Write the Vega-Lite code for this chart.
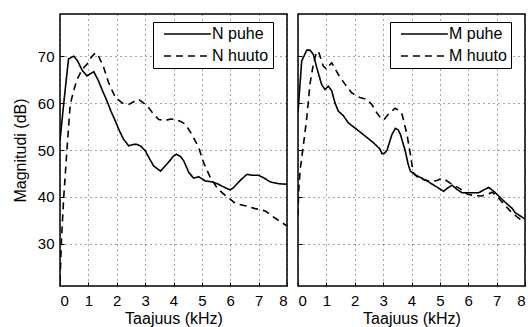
{
  "$schema": "https://vega.github.io/schema/vega-lite/v6.json",
  "padding": {"left": 11, "top": 13, "right": 5, "bottom": 0},
  "bounds": "flush",
  "spacing": 11,
  "config": {
    "font": "Liberation Sans",
    "view": {"stroke": "black", "strokeWidth": 1.5},
    "axis": {
      "domain": false,
      "ticks": true,
      "tickSize": -4,
      "tickColor": "black",
      "tickWidth": 1,
      "grid": true,
      "gridColor": "#000",
      "gridOpacity": 0.7,
      "gridDash": [1, 4],
      "gridWidth": 1,
      "labelFont": "Liberation Sans",
      "labelFontSize": 15,
      "labelColor": "black",
      "titleFont": "Liberation Sans",
      "titleFontSize": 16,
      "titleFontWeight": "normal",
      "titleColor": "black"
    },
    "legend": {
      "orient": "none",
      "legendY": 8,
      "fillColor": "white",
      "strokeColor": "black",
      "padding": 4,
      "symbolType": "M-0.15,0H6.55",
      "symbolSize": 196,
      "symbolStrokeWidth": 1.6,
      "symbolStrokeColor": "black",
      "labelFont": "Liberation Sans",
      "labelFontSize": 16,
      "labelColor": "black",
      "labelOffset": 39,
      "rowPadding": 6,
      "title": null
    }
  },
  "datasets": {
    "N": [
      {"series": "N puhe", "f": 0, "dB": 52},
      {"series": "N puhe", "f": 0.15, "dB": 61},
      {"series": "N puhe", "f": 0.3, "dB": 69.4},
      {"series": "N puhe", "f": 0.48, "dB": 70},
      {"series": "N puhe", "f": 0.62, "dB": 69},
      {"series": "N puhe", "f": 0.78, "dB": 67},
      {"series": "N puhe", "f": 0.95, "dB": 65.8},
      {"series": "N puhe", "f": 1.08, "dB": 66.3},
      {"series": "N puhe", "f": 1.19, "dB": 66.7},
      {"series": "N puhe", "f": 1.36, "dB": 64.7},
      {"series": "N puhe", "f": 1.5, "dB": 62.6},
      {"series": "N puhe", "f": 1.66, "dB": 60.4},
      {"series": "N puhe", "f": 1.8, "dB": 58.2},
      {"series": "N puhe", "f": 1.95, "dB": 56.2},
      {"series": "N puhe", "f": 2.1, "dB": 54},
      {"series": "N puhe", "f": 2.24, "dB": 52.3},
      {"series": "N puhe", "f": 2.42, "dB": 50.9},
      {"series": "N puhe", "f": 2.6, "dB": 51.2},
      {"series": "N puhe", "f": 2.71, "dB": 51.2},
      {"series": "N puhe", "f": 2.85, "dB": 50.8},
      {"series": "N puhe", "f": 3.01, "dB": 49.8},
      {"series": "N puhe", "f": 3.15, "dB": 48.2},
      {"series": "N puhe", "f": 3.3, "dB": 46.6},
      {"series": "N puhe", "f": 3.54, "dB": 45.5},
      {"series": "N puhe", "f": 3.77, "dB": 47},
      {"series": "N puhe", "f": 4.0, "dB": 48.7},
      {"series": "N puhe", "f": 4.1, "dB": 49.1},
      {"series": "N puhe", "f": 4.25, "dB": 48.6},
      {"series": "N puhe", "f": 4.36, "dB": 47.7},
      {"series": "N puhe", "f": 4.54, "dB": 45.2},
      {"series": "N puhe", "f": 4.71, "dB": 44},
      {"series": "N puhe", "f": 4.89, "dB": 44.3},
      {"series": "N puhe", "f": 5.12, "dB": 43.4},
      {"series": "N puhe", "f": 5.36, "dB": 43.2},
      {"series": "N puhe", "f": 5.55, "dB": 42.8},
      {"series": "N puhe", "f": 5.71, "dB": 42.3},
      {"series": "N puhe", "f": 5.88, "dB": 41.8},
      {"series": "N puhe", "f": 6.0, "dB": 41.5},
      {"series": "N puhe", "f": 6.12, "dB": 42},
      {"series": "N puhe", "f": 6.24, "dB": 42.8},
      {"series": "N puhe", "f": 6.4, "dB": 43.8},
      {"series": "N puhe", "f": 6.59, "dB": 44.8},
      {"series": "N puhe", "f": 6.8, "dB": 44.6},
      {"series": "N puhe", "f": 7.0, "dB": 44.6},
      {"series": "N puhe", "f": 7.2, "dB": 44},
      {"series": "N puhe", "f": 7.41, "dB": 43.2},
      {"series": "N puhe", "f": 7.71, "dB": 42.8},
      {"series": "N puhe", "f": 8.0, "dB": 42.7},
      {"series": "N huuto", "f": 0, "dB": 22},
      {"series": "N huuto", "f": 0.05, "dB": 30.6},
      {"series": "N huuto", "f": 0.13, "dB": 39.8},
      {"series": "N huuto", "f": 0.25, "dB": 50.5},
      {"series": "N huuto", "f": 0.36, "dB": 59.7},
      {"series": "N huuto", "f": 0.48, "dB": 62.6},
      {"series": "N huuto", "f": 0.6, "dB": 65},
      {"series": "N huuto", "f": 0.78, "dB": 67.2},
      {"series": "N huuto", "f": 0.95, "dB": 68.3},
      {"series": "N huuto", "f": 1.13, "dB": 70},
      {"series": "N huuto", "f": 1.25, "dB": 70.7},
      {"series": "N huuto", "f": 1.36, "dB": 70},
      {"series": "N huuto", "f": 1.54, "dB": 67.6},
      {"series": "N huuto", "f": 1.71, "dB": 64.4},
      {"series": "N huuto", "f": 1.95, "dB": 61.2},
      {"series": "N huuto", "f": 2.2, "dB": 60},
      {"series": "N huuto", "f": 2.42, "dB": 59.7},
      {"series": "N huuto", "f": 2.6, "dB": 60.3},
      {"series": "N huuto", "f": 2.77, "dB": 60.8},
      {"series": "N huuto", "f": 2.95, "dB": 60},
      {"series": "N huuto", "f": 3.13, "dB": 59},
      {"series": "N huuto", "f": 3.3, "dB": 57.6},
      {"series": "N huuto", "f": 3.48, "dB": 56.5},
      {"series": "N huuto", "f": 3.71, "dB": 56.3},
      {"series": "N huuto", "f": 3.9, "dB": 56.6},
      {"series": "N huuto", "f": 4.06, "dB": 56.5},
      {"series": "N huuto", "f": 4.25, "dB": 56.1},
      {"series": "N huuto", "f": 4.42, "dB": 55.5},
      {"series": "N huuto", "f": 4.65, "dB": 53.3},
      {"series": "N huuto", "f": 4.89, "dB": 50.5},
      {"series": "N huuto", "f": 5.06, "dB": 47.3},
      {"series": "N huuto", "f": 5.3, "dB": 44.1},
      {"series": "N huuto", "f": 5.53, "dB": 42},
      {"series": "N huuto", "f": 5.71, "dB": 40.9},
      {"series": "N huuto", "f": 6.0, "dB": 39.5},
      {"series": "N huuto", "f": 6.18, "dB": 38.6},
      {"series": "N huuto", "f": 6.53, "dB": 38.1},
      {"series": "N huuto", "f": 6.88, "dB": 37.5},
      {"series": "N huuto", "f": 7.24, "dB": 37},
      {"series": "N huuto", "f": 7.47, "dB": 35.9},
      {"series": "N huuto", "f": 8.0, "dB": 33.8}
    ],
    "M": [
      {"series": "M puhe", "f": 0, "dB": 58},
      {"series": "M puhe", "f": 0.13, "dB": 69},
      {"series": "M puhe", "f": 0.31, "dB": 71.3},
      {"series": "M puhe", "f": 0.42, "dB": 71.3},
      {"series": "M puhe", "f": 0.54, "dB": 70.4},
      {"series": "M puhe", "f": 0.66, "dB": 67.6},
      {"series": "M puhe", "f": 0.83, "dB": 64},
      {"series": "M puhe", "f": 0.95, "dB": 62.9},
      {"series": "M puhe", "f": 1.07, "dB": 63.6},
      {"series": "M puhe", "f": 1.19, "dB": 62.6},
      {"series": "M puhe", "f": 1.3, "dB": 60.1},
      {"series": "M puhe", "f": 1.42, "dB": 58.3},
      {"series": "M puhe", "f": 1.6, "dB": 57.3},
      {"series": "M puhe", "f": 1.77, "dB": 55.8},
      {"series": "M puhe", "f": 2.07, "dB": 54.4},
      {"series": "M puhe", "f": 2.36, "dB": 53},
      {"series": "M puhe", "f": 2.65, "dB": 51.6},
      {"series": "M puhe", "f": 2.89, "dB": 50.2},
      {"series": "M puhe", "f": 2.96, "dB": 49.2},
      {"series": "M puhe", "f": 3.05, "dB": 49.3},
      {"series": "M puhe", "f": 3.14, "dB": 50},
      {"series": "M puhe", "f": 3.31, "dB": 53.3},
      {"series": "M puhe", "f": 3.43, "dB": 54.6},
      {"series": "M puhe", "f": 3.53, "dB": 54.3},
      {"series": "M puhe", "f": 3.61, "dB": 53.3},
      {"series": "M puhe", "f": 3.78, "dB": 49.8},
      {"series": "M puhe", "f": 3.88, "dB": 47},
      {"series": "M puhe", "f": 3.96, "dB": 45.5},
      {"series": "M puhe", "f": 4.13, "dB": 44.7},
      {"series": "M puhe", "f": 4.49, "dB": 43.6},
      {"series": "M puhe", "f": 4.84, "dB": 42.3},
      {"series": "M puhe", "f": 5.13, "dB": 41.2},
      {"series": "M puhe", "f": 5.3, "dB": 42},
      {"series": "M puhe", "f": 5.43, "dB": 42.5},
      {"series": "M puhe", "f": 5.6, "dB": 41.6},
      {"series": "M puhe", "f": 5.78, "dB": 40.9},
      {"series": "M puhe", "f": 6.0, "dB": 40.9},
      {"series": "M puhe", "f": 6.37, "dB": 40.9},
      {"series": "M puhe", "f": 6.55, "dB": 41.5},
      {"series": "M puhe", "f": 6.72, "dB": 42},
      {"series": "M puhe", "f": 6.9, "dB": 41.2},
      {"series": "M puhe", "f": 7.07, "dB": 40.2},
      {"series": "M puhe", "f": 7.31, "dB": 38.8},
      {"series": "M puhe", "f": 7.54, "dB": 37.6},
      {"series": "M puhe", "f": 7.66, "dB": 36.6},
      {"series": "M puhe", "f": 8.0, "dB": 35.3},
      {"series": "M huuto", "f": 0, "dB": 36},
      {"series": "M huuto", "f": 0.02, "dB": 41},
      {"series": "M huuto", "f": 0.08, "dB": 46},
      {"series": "M huuto", "f": 0.19, "dB": 51},
      {"series": "M huuto", "f": 0.31, "dB": 56.9},
      {"series": "M huuto", "f": 0.42, "dB": 64},
      {"series": "M huuto", "f": 0.54, "dB": 68.3},
      {"series": "M huuto", "f": 0.66, "dB": 71.1},
      {"series": "M huuto", "f": 0.74, "dB": 70.7},
      {"series": "M huuto", "f": 0.89, "dB": 67.9},
      {"series": "M huuto", "f": 1.01, "dB": 67.2},
      {"series": "M huuto", "f": 1.1, "dB": 68},
      {"series": "M huuto", "f": 1.19, "dB": 68.6},
      {"series": "M huuto", "f": 1.42, "dB": 66.1},
      {"series": "M huuto", "f": 1.66, "dB": 64},
      {"series": "M huuto", "f": 1.89, "dB": 62.2},
      {"series": "M huuto", "f": 2.18, "dB": 61.2},
      {"series": "M huuto", "f": 2.42, "dB": 60.8},
      {"series": "M huuto", "f": 2.6, "dB": 59.7},
      {"series": "M huuto", "f": 2.77, "dB": 58},
      {"series": "M huuto", "f": 2.95, "dB": 56.5},
      {"series": "M huuto", "f": 3.05, "dB": 56.6},
      {"series": "M huuto", "f": 3.18, "dB": 57.6},
      {"series": "M huuto", "f": 3.42, "dB": 58.9},
      {"series": "M huuto", "f": 3.54, "dB": 58.5},
      {"series": "M huuto", "f": 3.67, "dB": 57.6},
      {"series": "M huuto", "f": 3.84, "dB": 53.3},
      {"series": "M huuto", "f": 3.96, "dB": 49.1},
      {"series": "M huuto", "f": 4.06, "dB": 45.2},
      {"series": "M huuto", "f": 4.2, "dB": 44.3},
      {"series": "M huuto", "f": 4.4, "dB": 43.7},
      {"series": "M huuto", "f": 4.7, "dB": 43.3},
      {"series": "M huuto", "f": 4.9, "dB": 43.5},
      {"series": "M huuto", "f": 5.05, "dB": 43.9},
      {"series": "M huuto", "f": 5.2, "dB": 43.6},
      {"series": "M huuto", "f": 5.45, "dB": 42.6},
      {"series": "M huuto", "f": 5.72, "dB": 41.7},
      {"series": "M huuto", "f": 5.96, "dB": 40.6},
      {"series": "M huuto", "f": 6.2, "dB": 40.3},
      {"series": "M huuto", "f": 6.48, "dB": 40.2},
      {"series": "M huuto", "f": 6.7, "dB": 40.6},
      {"series": "M huuto", "f": 6.84, "dB": 41},
      {"series": "M huuto", "f": 7.0, "dB": 40.2},
      {"series": "M huuto", "f": 7.19, "dB": 38.9},
      {"series": "M huuto", "f": 7.54, "dB": 36.6},
      {"series": "M huuto", "f": 7.84, "dB": 35.2},
      {"series": "M huuto", "f": 8.0, "dB": 34.8}
    ]
  },
  "resolve": {"scale": {"strokeDash": "independent"}, "legend": {"strokeDash": "independent"}},
  "hconcat": [
    {
      "width": 227,
      "height": 272,
      "data": {"name": "N"},
      "mark": {"type": "line", "color": "black", "strokeWidth": 1.6, "clip": true},
      "encoding": {
        "x": {"field": "f", "type": "quantitative", "scale": {"domain": [0, 8], "nice": false},
              "axis": {"title": "Taajuus (kHz)", "values": [0,1,2,3,4,5,6,7,8], "labelPadding": 11, "titlePadding": 2}},
        "y": {"field": "dB", "type": "quantitative", "scale": {"domain": [21, 79], "nice": false, "zero": false},
              "axis": {"title": "Magnitudi (dB)", "values": [30,40,50,60,70], "labelPadding": 10, "titlePadding": 9}},
        "strokeDash": {"field": "series", "type": "nominal",
                       "scale": {"domain": ["N puhe", "N huuto"], "range": [[1, 0], [7, 5]]},
                       "legend": {"legendX": 93}},
        "order": {"field": "f", "type": "quantitative"}
      }
    },
    {
      "width": 227,
      "height": 272,
      "data": {"name": "M"},
      "mark": {"type": "line", "color": "black", "strokeWidth": 1.6, "clip": true},
      "encoding": {
        "x": {"field": "f", "type": "quantitative", "scale": {"domain": [0, 8], "nice": false},
              "axis": {"title": "Taajuus (kHz)", "values": [0,1,2,3,4,5,6,7,8], "labelPadding": 11, "titlePadding": 2}},
        "y": {"field": "dB", "type": "quantitative", "scale": {"domain": [21, 79], "nice": false, "zero": false},
              "axis": {"title": null, "labels": false, "values": [30,40,50,60,70]}},
        "strokeDash": {"field": "series", "type": "nominal",
                       "scale": {"domain": ["M puhe", "M huuto"], "range": [[1, 0], [7, 5]]},
                       "legend": {"legendX": 92}},
        "order": {"field": "f", "type": "quantitative"}
      }
    }
  ]
}
